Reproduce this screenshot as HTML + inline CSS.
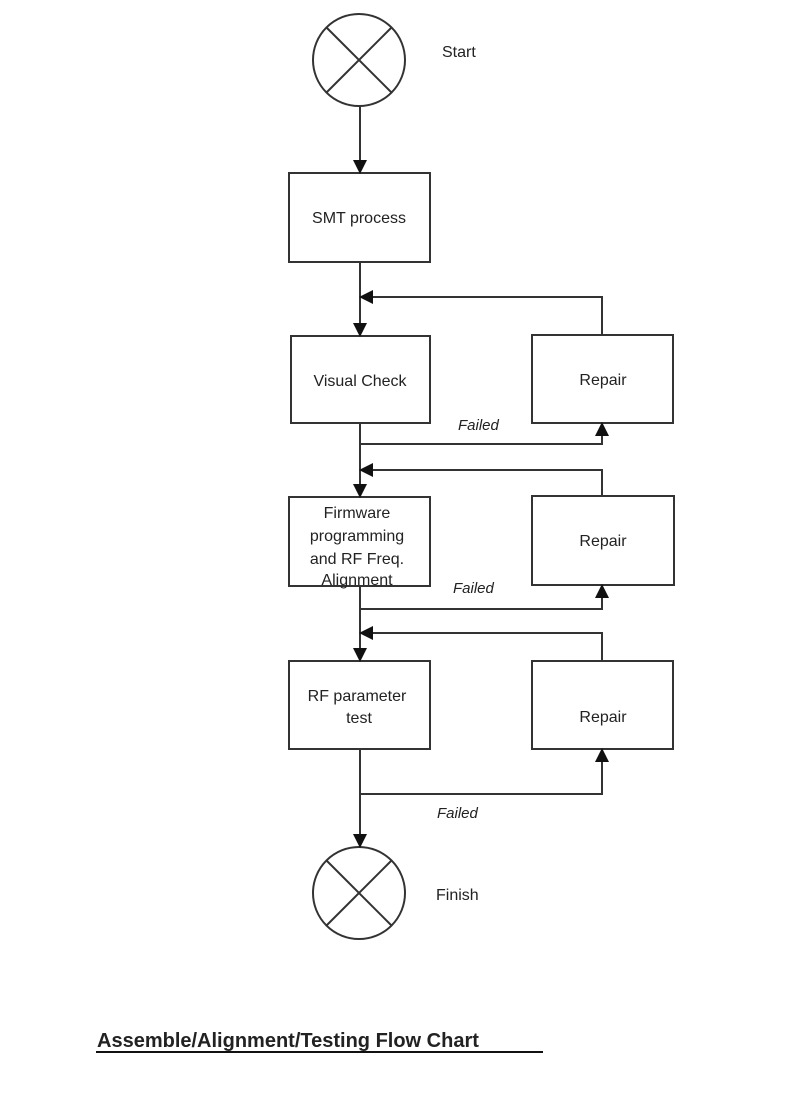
<!DOCTYPE html>
<html><head><meta charset="utf-8"><style>
body{margin:0;background:#fff;}
svg text{font-family:"Liberation Sans",Arial,sans-serif;fill:#222;}
</style></head><body>
<svg width="800" height="1094" viewBox="0 0 800 1094" xmlns="http://www.w3.org/2000/svg">
<defs><marker id="a" markerWidth="10" markerHeight="10" refX="9" refY="5" orient="auto" markerUnits="userSpaceOnUse"><path d="M0,0 L10,5 L0,10 z" fill="#111"/></marker>
<marker id="b" markerWidth="14" markerHeight="14" refX="13" refY="7" orient="auto" markerUnits="userSpaceOnUse"><path d="M0,0 L14,7 L0,14 z" fill="#111"/></marker></defs>
<g stroke="#333" stroke-width="2" fill="none">
<circle cx="359" cy="60" r="46"/>
<line x1="326" y1="27" x2="392" y2="93"/><line x1="392" y1="27" x2="326" y2="93"/>
<circle cx="359" cy="893" r="46"/>
<line x1="326" y1="860" x2="392" y2="926"/><line x1="392" y1="860" x2="326" y2="926"/>
<rect x="289" y="173" width="141" height="89"/>
<rect x="291" y="336" width="139" height="87"/>
<rect x="532" y="335" width="141" height="88"/>
<rect x="289" y="497" width="141" height="89"/>
<rect x="532" y="496" width="142" height="89"/>
<rect x="289" y="661" width="141" height="88"/>
<rect x="532" y="661" width="141" height="88"/>
<line x1="360" y1="106" x2="360" y2="173" marker-end="url(#b)"/>
<line x1="360" y1="262" x2="360" y2="336" marker-end="url(#b)"/>
<polyline points="602,335 602,297 360,297" marker-end="url(#b)"/>
<line x1="360" y1="423" x2="360" y2="497" marker-end="url(#b)"/>
<polyline points="360,444 602,444 602,423" marker-end="url(#b)"/>
<polyline points="602,496 602,470 360,470" marker-end="url(#b)"/>
<line x1="360" y1="586" x2="360" y2="661" marker-end="url(#b)"/>
<polyline points="360,609 602,609 602,585" marker-end="url(#b)"/>
<polyline points="602,661 602,633 360,633" marker-end="url(#b)"/>
<line x1="360" y1="749" x2="360" y2="847" marker-end="url(#b)"/>
<polyline points="360,794 602,794 602,749" marker-end="url(#b)"/>
</g>
<g font-size="16">
<text x="442" y="57">Start</text>
<text x="436" y="900">Finish</text>
<text x="359" y="223" text-anchor="middle">SMT process</text>
<text x="360" y="386" text-anchor="middle">Visual Check</text>
<text x="603" y="385" text-anchor="middle">Repair</text>
<text x="603" y="546" text-anchor="middle">Repair</text>
<text x="603" y="722" text-anchor="middle">Repair</text>
<text x="357" y="518" text-anchor="middle">Firmware</text>
<text x="357" y="541" text-anchor="middle">programming</text>
<text x="357" y="564" text-anchor="middle">and RF Freq.</text>
<text x="357" y="585" text-anchor="middle">Alignment</text>
<text x="357" y="701" text-anchor="middle">RF parameter</text>
<text x="359" y="723" text-anchor="middle">test</text>
<text x="458" y="430" font-style="italic" font-size="15">Failed</text>
<text x="453" y="593" font-style="italic" font-size="15">Failed</text>
<text x="437" y="818" font-style="italic" font-size="15">Failed</text>
</g>
<text x="97" y="1047" font-size="20" font-weight="bold" fill="#111">Assemble/Alignment/Testing Flow Chart</text>
<line x1="96" y1="1052" x2="543" y2="1052" stroke="#111" stroke-width="2"/>
</svg>
</body></html>
